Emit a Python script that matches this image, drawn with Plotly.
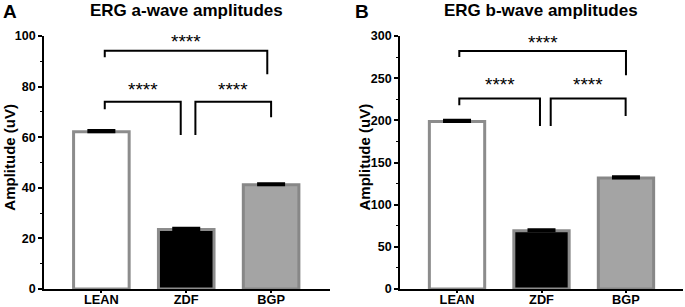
import plotly.graph_objects as go

# ---------------- data ----------------
groups = ["LEAN", "ZDF", "BGP"]
a_wave_mean = [62.2, 23.5, 41.2]
a_wave_sem = [0.4, 0.5, 0.4]
b_wave_mean = [198.5, 69.0, 131.7]
b_wave_sem = [1.5, 1.2, 1.3]
a_ticks = [0, 20, 40, 60, 80, 100]
b_ticks = [0, 50, 100, 150, 200, 250, 300]
sig_label = "****"

# bracket geometry: (x_left, x_right, y_bar, y_left_end, y_right_end, y_text)
a_brackets = [
    (0.04, 1.955, 94.2, 91.6, 84.9, 97.7),
    (0.04, 0.935, 74.0, 71.0, 60.9, 79.0),
    (1.108, 2.0, 74.0, 60.9, 67.9, 79.0),
]
b_brackets = [
    (0.027, 2.0, 282.3, 275.2, 253.5, 292.2),
    (0.027, 0.982, 226.0, 218.0, 193.2, 242.9),
    (1.109, 1.996, 226.0, 193.2, 205.0, 242.9),
]

FONT = "Liberation Sans, Arial, sans-serif"
W, H = 685, 307
fill_colors = ["#ffffff", "#000000", "#a4a4a4"]
line_colors = ["#8c8c8c", "#8c8c8c", "#878787"]

fig = go.Figure()

def add_bars(xa, ya, means, sems):
    fig.add_trace(go.Bar(
        x=list(range(len(groups))), y=means,
        xaxis=xa, yaxis=ya,
        width=0.655,
        marker=dict(color=fill_colors, line=dict(color=line_colors, width=3)),
        error_y=dict(type="data", array=sems, arrayminus=[0] * len(sems),
                     symmetric=False, color="black", thickness=3, width=14),
        showlegend=False, hoverinfo="skip",
    ))

add_bars("x", "y", a_wave_mean, a_wave_sem)
add_bars("x2", "y2", b_wave_mean, b_wave_sem)

def add_brackets(xref, yref, brackets):
    for (x0, x1, yb, yl, yr, yt) in brackets:
        fig.add_shape(type="path", xref=xref, yref=yref,
                      path=f"M {x0},{yl} L {x0},{yb} L {x1},{yb} L {x1},{yr}",
                      line=dict(color="black", width=2))
        fig.add_annotation(x=(x0 + x1) / 2, y=yt, xref=xref, yref=yref,
                           text=sig_label, showarrow=False,
                           font=dict(family=FONT, size=19, color="black"),
                           yanchor="middle", xanchor="center")

add_brackets("x", "y", a_brackets)
add_brackets("x2", "y2", b_brackets)

ydom = [(H - 289) / H, (H - 36) / H]
xdomA = [44 / W, 330 / W]
xdomB = [400 / W, 683 / W]

axis_common = dict(showline=True, linecolor="black", linewidth=1.6,
                   showgrid=False, zeroline=False, ticks="outside",
                   tickcolor="black", tickwidth=1.5, automargin=False)
xfont = dict(family=FONT, size=12.8, color="black", weight="bold")
yfont = dict(family=FONT, size=12.5, color="black", weight="bold")

fig.update_layout(
    template="none",
    width=W, height=H,
    margin=dict(l=0, r=0, t=0, b=0, autoexpand=False),
    paper_bgcolor="white", plot_bgcolor="white",
    xaxis=dict(domain=xdomA, range=[-0.676, 2.694], tickvals=[0, 1, 2],
               ticktext=groups, ticklen=2, ticklabelstandoff=-4,
               tickfont=xfont, anchor="y", **axis_common),
    yaxis=dict(domain=ydom, range=[0, 100], tickvals=a_ticks, ticklen=4,
               tickfont=yfont, anchor="x",
               minor=dict(ticks="outside", dtick=10, ticklen=2.5,
                          tickcolor="black", tickwidth=1.2),
               **axis_common),
    xaxis2=dict(domain=xdomB, range=[-0.675, 2.675], tickvals=[0, 1, 2],
                ticktext=groups, ticklen=2, ticklabelstandoff=-4,
                tickfont=xfont, anchor="y2", **axis_common),
    yaxis2=dict(domain=ydom, range=[0, 300], tickvals=b_ticks, ticklen=4,
                tickfont=yfont, anchor="x2",
                minor=dict(ticks="outside", dtick=25, ticklen=2.5,
                           tickcolor="black", tickwidth=1.2),
                **axis_common),
)

def paper_text(x, y, text, size, angle=0):
    fig.add_annotation(x=x / W, y=1 - y / H, xref="paper", yref="paper",
                       text=text, showarrow=False, textangle=angle,
                       xanchor="center", yanchor="middle",
                       font=dict(family=FONT, size=size, color="black",
                                 weight="bold"))

paper_text(187, 10, "ERG a-wave amplitudes", 17)
paper_text(541, 10, "ERG b-wave amplitudes", 17)
paper_text(10, 11, "A", 19)
paper_text(362, 11, "B", 19)
paper_text(8.7, 157, "Amplitude (uV)", 15, -90)
paper_text(363.5, 157, "Amplitude (uV)", 15, -90)

fig.write_html("out.html", config={"displayModeBar": False},
               post_script="document.body.style.margin='0';"
                           "document.body.style.overflow='hidden';")
